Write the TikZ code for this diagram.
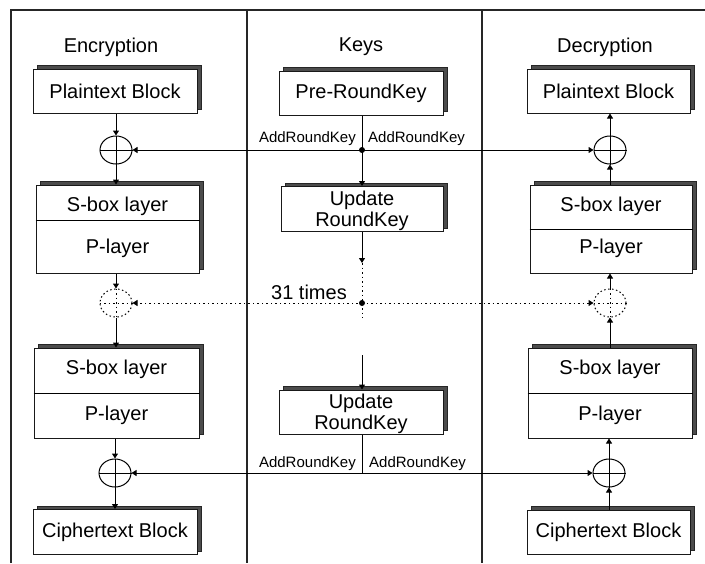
\documentclass[tikz,border=0pt]{standalone}
\usepackage{fontspec}
\setmainfont{Liberation Sans}
\usetikzlibrary{arrows.meta,shapes.geometric,shadows,calc}
\begin{document}
\begin{tikzpicture}[x=1pt,y=-1pt,
  every node/.style={font=\fontsize{20}{21}\selectfont},
  box/.style={draw=black!90, line width=1pt, fill=white, inner sep=0pt, align=center,
    copy shadow={shadow xshift=4pt, shadow yshift=3.5pt, fill=black!70, draw=black!85, line width=0.6pt}},
  xor/.style={ellipse, draw, line width=1pt, minimum width=32pt, minimum height=28pt, inner sep=0pt},
  dxor/.style={xor, dash pattern=on 1.5pt off 2.5pt},
  arr/.style={-{Triangle[length=5pt,width=6pt]}, line width=1pt},
  dotline/.style={line width=1pt, dash pattern=on 1.5pt off 3pt},
  darr/.style={arr, dash pattern=on 1.5pt off 3pt},
  lbl/.style={font=\fontsize{15}{17}\selectfont, inner sep=0pt},
  frame/.style={line width=1.2pt, draw=black!85},
  jdot/.style={circle, fill=black, inner sep=0pt, minimum size=6pt}
]
\useasboundingbox (0,0) rectangle (705,563);
% frame
\draw[frame] (11,563) -- (11,10) -- (705,10);
\draw[frame] (247,10) -- (247,563);
\draw[frame] (482,10) -- (482,563);

% headers
\node (hE) at (111,47) {Encryption};
\node (hK) at (361,47) {Keys};
\node (hD) at (605,47) {Decryption};

% encryption column
\node[box, minimum width=164pt, minimum height=44pt] (ptE) at (115,91) {Plaintext Block};
\node[xor] (x1) at (116,150) {};
\node[box, minimum width=163pt, minimum height=88pt] (e1) at (117.5,229) {};
\draw[line width=1pt] ($(e1.north west)!0.4!(e1.south west)$) -- ($(e1.north east)!0.4!(e1.south east)$);
\node (e1s) at ($(e1.north)!0.25!(e1.south)$) {S-box layer};
\node (e1p) at ($(e1.north)!0.72!(e1.south)$) {P-layer};
\node[dxor] (d1) at (116,303) {};
\node[box, minimum width=165pt, minimum height=90pt] (e2) at (116.5,393) {};
\draw[line width=1pt] ($(e2.north west)!0.51!(e2.south west)$) -- ($(e2.north east)!0.51!(e2.south east)$);
\node (e2s) at ($(e2.north)!0.245!(e2.south)$) {S-box layer};
\node (e2p) at ($(e2.north)!0.74!(e2.south)$) {P-layer};
\node[xor] (x2) at (115,473) {};
\node[box, minimum width=164pt, minimum height=45pt] (ctE) at (115,532) {Ciphertext Block};

% keys column
\node[box, minimum width=164pt, minimum height=44pt] (prk) at (361,93) {Pre-RoundKey};
\node[jdot] (j1) at (362,150) {};
\node[box, minimum width=162pt, minimum height=45pt] (u1) at (362,209) {};
\node (u1t) at ($(u1.center)+(0,2)$) [align=center] {Update\\RoundKey};
\coordinate (k1) at (362,263);
\coordinate (k1b) at (362,318);
\node[jdot] (j2) at (362,303) {};
\coordinate (k2) at (362,355);
\node[box, minimum width=164pt, minimum height=44pt] (u2) at (361,412) {};
\node (u2t) at ($(u2.center)+(0,2)$) [align=center] {Update\\RoundKey};
\coordinate (j3) at (362,473);

% decryption column
\node[box, minimum width=163pt, minimum height=44pt] (ptD) at (608.5,91) {Plaintext Block};
\node[xor] (x3) at (610,150) {};
\node[box, minimum width=162pt, minimum height=88pt] (r1) at (611,229) {};
\draw[line width=1pt] ($(r1.north west)!0.5!(r1.south west)$) -- ($(r1.north east)!0.5!(r1.south east)$);
\node (r1s) at ($(r1.north)!0.25!(r1.south)$) {S-box layer};
\node (r1p) at ($(r1.north)!0.72!(r1.south)$) {P-layer};
\node[dxor] (d2) at (610,303) {};
\node[box, minimum width=164pt, minimum height=90pt] (r2) at (610,393) {};
\draw[line width=1pt] ($(r2.north west)!0.51!(r2.south west)$) -- ($(r2.north east)!0.51!(r2.south east)$);
\node (r2s) at ($(r2.north)!0.245!(r2.south)$) {S-box layer};
\node (r2p) at ($(r2.north)!0.74!(r2.south)$) {P-layer};
\node[xor] (x4) at (609,473) {};
\node[box, minimum width=163pt, minimum height=44pt] (ctD) at (608.5,532) {Ciphertext Block};

% plus signs
\foreach \n in {x1,x2,x3,x4}{
  \draw[line width=1pt] (\n.north) -- (\n.south) (\n.west) -- (\n.east);
}
\foreach \n in {d1,d2}{
  \draw[dotline] (\n.north) -- (\n.south) (\n.west) -- (\n.east);
}

% encryption connectors
\draw[arr] (x1.north |- ptE.south) -- (x1.north);
\draw[arr] (x1.south) -- (x1.south |- e1.north);
\draw[arr] (d1.north |- e1.south) -- (d1.north);
\draw[arr] (d1.south) -- (d1.south |- e2.north);
\draw[arr] (x2.north |- e2.south) -- (x2.north);
\draw[arr] (x2.south) -- (x2.south |- ctE.north);

% key connectors
\draw[arr] (j1 |- prk.south) -- (j1 |- u1.north);
\draw[arr] (j1.center) -- (x1.east);
\draw[arr] (j1.center) -- (x3.west);
\draw[arr] (j1 |- u1.south) -- (k1);
\draw[dotline] (k1) -- (k1b);
\draw[darr] (j2.center) -- (d1.east);
\draw[darr] (j2.center) -- (d2.west);
\draw[arr] (k2) -- (k2 |- u2.north);
\draw[line width=1pt] (j3 |- u2.south) -- (j3);
\draw[arr] (j3) -- (x2.east);
\draw[arr] (j3) -- (x4.west);

% labels
\node[lbl, anchor=base east] (l1) at ($(j1)+(-6,-8)$) {AddRoundKey};
\node[lbl, anchor=base west] (l2) at ($(j1)+(6,-8)$) {AddRoundKey};
\node[lbl, anchor=base east] (l3) at ($(j3)+(-6,-6)$) {AddRoundKey};
\node[lbl, anchor=base west] (l4) at ($(j3)+(7,-6)$) {AddRoundKey};
\node[inner sep=0pt, anchor=base east] (l5) at ($(j2)+(-15,-4)$) {31 times};

% decryption connectors
\draw[arr] (x3.north) -- (x3.north |- ptD.south);
\draw[arr] (x3.south |- r1.north) -- (x3.south);
\draw[arr] (d2.north) -- (d2.north |- r1.south);
\draw[arr] (d2.south |- r2.north) -- (d2.south);
\draw[arr] (x4.north) -- (x4.north |- r2.south);
\draw[arr] (x4.south |- ctD.north) -- (x4.south);
\end{tikzpicture}
\end{document}
